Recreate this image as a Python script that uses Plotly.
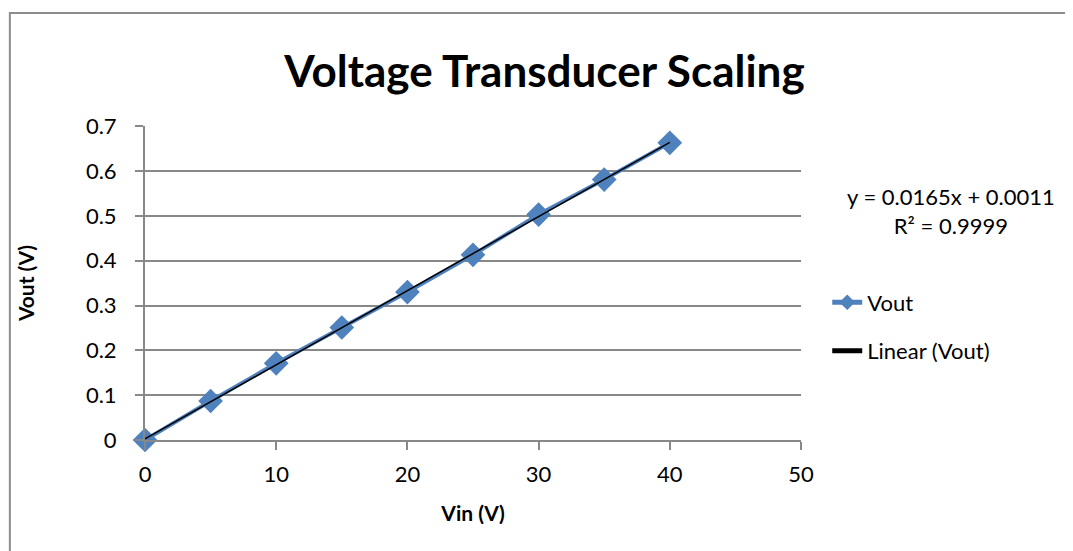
import plotly.graph_objects as go
import numpy as np

vin = [0, 5, 10, 15, 20, 25, 30, 35, 40]
vout = [0.0, 0.087, 0.171, 0.251, 0.330, 0.413, 0.503, 0.581, 0.663]

x_ticks = [0, 10, 20, 30, 40, 50]
y_ticks = [0, 0.1, 0.2, 0.3, 0.4, 0.5, 0.6, 0.7]
y_tick_text = ['0', '0.1', '0.2', '0.3', '0.4', '0.5', '0.6', '0.7']

# linear trendline from the data
slope, intercept = np.polyfit(vin, vout, 1)
fit_x = [vin[0], vin[-1]]
fit_y = [slope * v + intercept for v in fit_x]

FONT = 'Lato'
GRID = '#888888'

fig = go.Figure()

fig.add_trace(go.Scatter(
    x=vin, y=vout,
    mode='lines+markers',
    name='Vout',
    legendgroup='a',
    line=dict(color='#4F81BD', width=4),
    marker=dict(symbol='diamond', size=19, color='#4F81BD'),
    cliponaxis=False,
))

fig.add_trace(go.Scatter(
    x=fit_x, y=fit_y,
    mode='lines',
    name='Linear (Vout)',
    legendgroup='b',
    line=dict(color='black', width=1.5),
    cliponaxis=False,
))

fig.update_layout(
    width=1073, height=551,
    margin=dict(l=137, r=280, t=118, b=119),
    plot_bgcolor='white',
    paper_bgcolor='white',
    font=dict(family=FONT, size=22, color='black'),
    title=dict(
        text='<b>Voltage Transducer Scaling</b>',
        font=dict(family=FONT, size=44, color='black'),
        x=0.5, xanchor='center',
        y=0.885, yanchor='middle',
    ),
    xaxis=dict(
        range=[0, 50], tickvals=x_ticks,
        showgrid=False, zeroline=False,
        showline=True, linecolor=GRID, linewidth=2,
        ticks='outside', ticklen=8, tickcolor=GRID, tickwidth=2,
        ticklabelstandoff=6,
        title=dict(text='<b>Vin (V)</b>', font=dict(size=21), standoff=20),
    ),
    yaxis=dict(
        range=[0, 0.7005], tickvals=y_ticks, ticktext=y_tick_text,
        showgrid=True, gridcolor=GRID, gridwidth=1.5, zeroline=False,
        showline=True, linecolor=GRID, linewidth=2,
        ticks='outside', ticklen=8, tickcolor=GRID, tickwidth=2,
        ticklabelstandoff=14,
        title=dict(text='<b>Vout (V)</b>', font=dict(size=21), standoff=46),
    ),
    legend=dict(
        x=1.04, y=0.505, xanchor='left', yanchor='top',
        font=dict(size=22),
        bgcolor='rgba(0,0,0,0)',
        traceorder='grouped',
        tracegroupgap=17, itemsizing='constant',
    ),
    showlegend=True,
    annotations=[dict(
        text='y = 0.0165x + 0.0011<br>R² = 0.9999',
        xref='paper', yref='paper',
        x=1.228, y=0.73, xanchor='center', yanchor='middle',
        showarrow=False, font=dict(size=22),
        align='center',
    )],
    shapes=[dict(
        type='rect', xref='paper', yref='paper',
        x0=-0.206, x1=1.42, y0=-0.37, y1=1.36,
        line=dict(color='#8c8c8c', width=2),
        layer='below',
    )],
)

fig.write_html('out.html')
